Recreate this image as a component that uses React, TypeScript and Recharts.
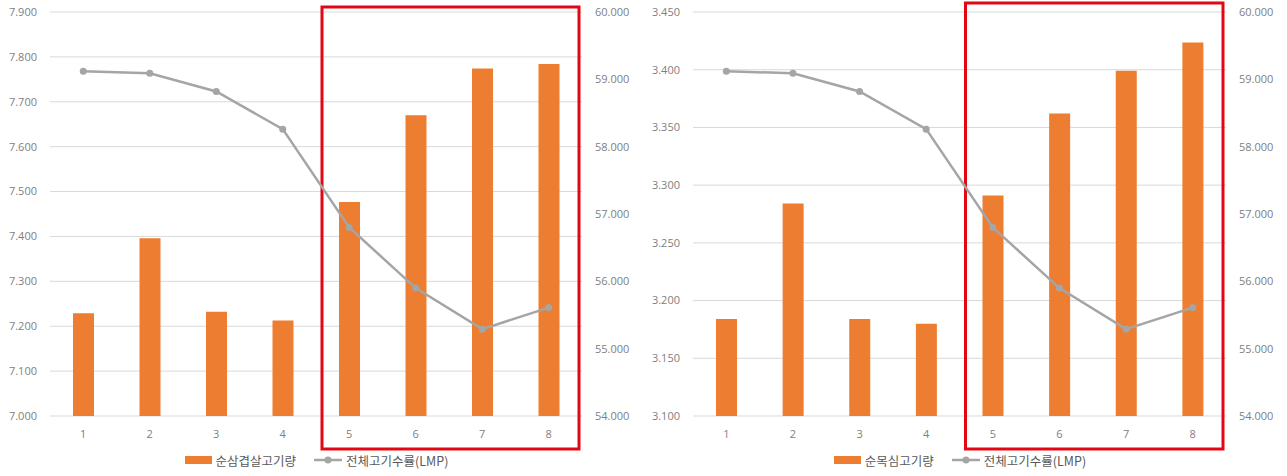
import React from 'react';
import { ComposedChart, Bar, Line, XAxis, YAxis, CartesianGrid, Legend, ReferenceArea } from 'recharts';

const categories = ['1', '2', '3', '4', '5', '6', '7', '8'];
const samgyeopValues = [7.229, 7.396, 7.232, 7.213, 7.477, 7.67, 7.774, 7.784];
const moksimValues = [3.184, 3.284, 3.184, 3.18, 3.291, 3.362, 3.399, 3.4235];
const lmpValues = [59.12, 59.09, 58.82, 58.26, 56.8, 55.9, 55.29, 55.61];

const samgyeopTicks = [7.0, 7.1, 7.2, 7.3, 7.4, 7.5, 7.6, 7.7, 7.8, 7.9];
const moksimTicks = [3.1, 3.15, 3.2, 3.25, 3.3, 3.35, 3.4, 3.45];
const lmpTicks = [54, 55, 56, 57, 58, 59, 60];

const samgyeopName = '순삼겹살고기량';
const moksimName = '순목심고기량';
const lmpName = '전체고기수률(LMP)';
const highlightFrom = '5';
const highlightTo = '8';

const ORANGE = '#ED7D31';
const GREY = '#A5A5A5';
const TICK_COLOR = '#808080';
const TEXT_COLOR = '#595959';
const FONT = '"Open Sans", "Noto Sans CJK KR", sans-serif';

const fmt = (v: number) => v.toFixed(3);

const LegendContent = (props: any) => {
  const payload = props.payload || [];
  return (
    <div
      style={{
        display: 'flex',
        justifyContent: 'center',
        alignItems: 'center',
        height: 22,
        fontFamily: '"Noto Sans CJK KR", "Open Sans", sans-serif',
        fontSize: 12.5,
        color: TEXT_COLOR,
        whiteSpace: 'nowrap',
      }}
    >
      {payload.map((item: any, i: number) => (
        <div key={i} style={{ display: 'flex', alignItems: 'center', marginLeft: i > 0 ? 18 : 0 }}>
          {item.type === 'rect' ? (
            <span style={{ display: 'inline-block', width: 27, height: 8, background: item.color, marginRight: 4 }} />
          ) : (
            <svg width={28} height={10} style={{ marginRight: 4 }}>
              <line x1={0} y1={5} x2={28} y2={5} stroke={item.color} strokeWidth={2.5} />
              <circle cx={14} cy={5} r={3.5} fill={item.color} />
            </svg>
          )}
          <span>{item.value}</span>
        </div>
      ))}
    </div>
  );
};

const HighlightShape = (topInset: number) => (props: any) => {
  const { x, y, width, height } = props;
  return (
    <rect
      x={x + 6}
      y={y - topInset}
      width={width - 9}
      height={height + topInset + 33}
      fill="none"
      stroke="#E30613"
      strokeWidth={3}
    />
  );
};

type PanelProps = {
  width: number;
  values: number[];
  barName: string;
  leftTicks: number[];
  topInset: number;
};

const Panel = ({ width, values, barName, leftTicks, topInset }: PanelProps) => {
  const data = categories.map((c, i) => ({ cat: c, bar: values[i], lmp: lmpValues[i] }));
  const tickStyle = { fill: TICK_COLOR, fontSize: 11, fontFamily: FONT };
  return (
    <ComposedChart width={width} height={476} data={data} margin={{ top: 12, right: 10, bottom: 5, left: 0 }}>
      <CartesianGrid yAxisId="left" vertical={false} stroke="#D9D9D9" />
      <XAxis
        dataKey="cat"
        type="category"
        axisLine={false}
        tickLine={false}
        tick={tickStyle}
        tickMargin={8}
        height={33}
      />
      <YAxis
        yAxisId="left"
        orientation="left"
        domain={[leftTicks[0], leftTicks[leftTicks.length - 1]]}
        ticks={leftTicks}
        tickFormatter={fmt}
        axisLine={false}
        tickLine={false}
        tick={tickStyle}
        tickMargin={7}
        width={50}
        interval={0}
      />
      <YAxis
        yAxisId="right"
        orientation="right"
        domain={[lmpTicks[0], lmpTicks[lmpTicks.length - 1]]}
        ticks={lmpTicks}
        tickFormatter={fmt}
        axisLine={false}
        tickLine={false}
        tick={tickStyle}
        tickMargin={7}
        width={51}
        interval={0}
      />
      <Bar yAxisId="left" dataKey="bar" name={barName} fill={ORANGE} barSize={21} isAnimationActive={false} legendType="rect" />
      <Line
        yAxisId="right"
        dataKey="lmp"
        name={lmpName}
        stroke={GREY}
        strokeWidth={2.5}
        dot={{ r: 3.5, fill: GREY, stroke: GREY, strokeWidth: 0 }}
        activeDot={false}
        isAnimationActive={false}
        legendType="line"
      />
      <ReferenceArea
        yAxisId="left"
        x1={highlightFrom}
        x2={highlightTo}
        ifOverflow="visible"
        shape={HighlightShape(topInset)}
      />
      <Legend verticalAlign="bottom" align="center" content={<LegendContent />} />
    </ComposedChart>
  );
};

export default function App() {
  return (
    <div style={{ position: 'absolute', left: 0, top: 0, width: 1287, height: 476, background: '#fff', display: 'flex' }}>
      <Panel width={643} values={samgyeopValues} barName={samgyeopName} leftTicks={samgyeopTicks} topInset={5} />
      <Panel width={644} values={moksimValues} barName={moksimName} leftTicks={moksimTicks} topInset={9} />
    </div>
  );
}
